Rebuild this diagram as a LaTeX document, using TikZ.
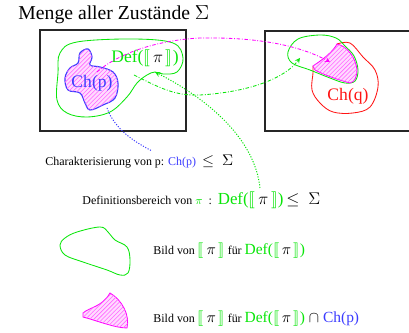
\documentclass[tikz,border=0pt]{standalone}
\usepackage{fontspec}
\setmainfont{Liberation Serif}
\usepackage{amssymb}
\usepackage{stmaryrd}
\usetikzlibrary{arrows, patterns}

\definecolor{defgreen}{RGB}{10,230,10}
\definecolor{chblue}{RGB}{60,60,255}
\definecolor{imgpink}{RGB}{255,0,255}
\definecolor{chred}{RGB}{255,20,20}

\newcommand{\sempi}{{\color{defgreen}\llbracket}\,\pi\,{\color{defgreen}\rrbracket}}
\newcommand{\Defpi}{\textcolor{defgreen}{Def(}$\sempi$\textcolor{defgreen}{)}}

\begin{document}
\begin{tikzpicture}[x = 0.025cm, y = -0.025cm, > = stealth, semithick,
    every node/.style = {inner sep = 0pt},
    box/.style = {draw = black!85, line width = 0.75pt},
    defset/.style = {draw = defgreen, line width = 0.6pt},
    hatched/.style = {fill = imgpink!14, postaction = {pattern = north east lines, pattern color = imgpink!60}},
    dashdot/.style = {dash pattern = on 2.5pt off 1.2pt on 0.6pt off 1.2pt, line width = 0.6pt},
    dots/.style = {dash pattern = on 0.8pt off 1.1pt, line width = 0.7pt},
    small/.style = {font = \fontsize{8.5}{10}\selectfont, anchor = base west}]
    \useasboundingbox (0, 0) rectangle (409, 333);

    \node[anchor = base west, font = \fontsize{14}{16}\selectfont] (title) at (18, 20) {Menge aller Zustände $\Sigma$};

    % Zustandsraum links und rechts
    \draw[box] (40, 30) rectangle (186, 131);
    \draw[box] (409, 31) -- (265, 31) -- (265, 131) -- (409, 131);

    \draw[defset] plot[smooth cycle, tension = 0.6] coordinates {(60, 53) (77, 42) (133, 39) (173, 43) (183, 58) (177, 72) (163, 74) (155, 72) (147, 75) (137, 83) (127, 97) (110, 112) (87, 117) (67, 113) (57, 100) (58, 73)};
    \draw[draw = chblue, thick, hatched] plot[smooth cycle, tension = 0.6] coordinates {(80, 53) (88, 49) (92, 57) (90, 65) (100, 67) (113, 72) (118, 83) (115, 98) (103, 105) (90, 110) (85, 103) (80, 93) (68, 90) (65, 78) (70, 68) (78, 63)};
    \node[text = chblue, font = \fontsize{12.5}{14}\selectfont] (chp) at (92, 83) {Ch(p)};
    \node[font = \fontsize{12.5}{14}\selectfont] (def) at (145, 58) {\Defpi};

    \draw[draw = chred, line width = 0.6pt] plot[smooth, tension = 0.6] coordinates {(337, 44) (350, 43) (363, 57) (375, 70) (378, 87) (370, 107) (353, 113) (333, 112) (320, 103) (312, 90) (313, 73) (313, 66)};
    \draw[defset] plot[smooth cycle, tension = 0.6] coordinates {(288, 52) (298, 39) (320, 35) (336, 38) (345, 46) (354, 56) (358, 70) (355, 81) (345, 83) (330, 78) (310, 70) (292, 63)};
    \draw[draw = imgpink, line width = 0.6pt, hatched] (313, 66) .. controls (322, 60) and (333, 52) .. (337, 44) .. controls (347, 46) and (356, 58) .. (357, 70) .. controls (357, 76) and (355, 82) .. (350, 83) .. controls (338, 80) and (322, 74) .. (315, 70) -- cycle;
    \node[text = chred, font = \fontsize{12.5}{14}\selectfont] (chq) at (348, 96) {Ch(q)};

    % Pfeile
    \coordinate (chpIn) at (97, 72);
    \coordinate (imgTip) at (330, 62);
    \coordinate (defIn) at (134, 75);
    \coordinate (defImg) at (300, 58);
    \coordinate (notch) at (155, 72);
    \coordinate (defFoot) at (260, 188);
    \coordinate (chpOut) at (107, 108);
    \coordinate (chFoot) at (152, 151);
    \draw[imgpink, dashdot, ->] (chpIn) .. controls (120, 52) and (160, 40) .. (200, 38) .. controls (260, 37) and (300, 46) .. (imgTip);
    \draw[defgreen, dashdot, ->] (defIn) .. controls (160, 88) and (175, 96) .. (200, 95) .. controls (250, 92) and (285, 78) .. (defImg);
    \draw[defgreen, dots, ->] (defFoot) .. controls (255, 140) and (210, 100) .. (notch);
    \draw[chblue, dots] (chpOut) .. controls (115, 130) and (135, 142) .. (chFoot);

    \node[small] (chtext) at (45, 166) {Charakterisierung von p: \textcolor{chblue}{Ch(p)}\enspace{\fontsize{11}{12}\selectfont$\leq\ \Sigma$}};
    \node[small] (deftext) at (82, 205) {Definitionsbereich von \textcolor{defgreen}{$\pi$}\enspace:\enspace{\fontsize{12}{14}\selectfont\Defpi\,$\leq\ \Sigma$}};

    % Legende
    \draw[defset] plot[smooth cycle, tension = 0.6] coordinates {(60, 245) (65, 238) (77, 232) (100, 227) (108, 232) (115, 240) (127, 247) (130, 260) (128, 273) (120, 275) (107, 270) (83, 262) (65, 255)};
    \draw[draw = imgpink, line width = 0.6pt, hatched] (83, 313) .. controls (90, 307) and (102, 307) .. (110, 293) .. controls (122, 300) and (130, 315) .. (127, 328) .. controls (115, 328) and (95, 320) .. (83, 317) -- cycle;
    \node[small] (leg1) at (153, 255) {Bild von {\fontsize{11}{12}\selectfont$\sempi$} für {\fontsize{11}{12}\selectfont\Defpi}};
    \node[small] (leg2) at (153, 323) {Bild von {\fontsize{11}{12}\selectfont$\sempi$} für {\fontsize{11}{12}\selectfont\Defpi\ $\cap$ \textcolor{chblue}{Ch(p)}}};
\end{tikzpicture}
\end{document}
